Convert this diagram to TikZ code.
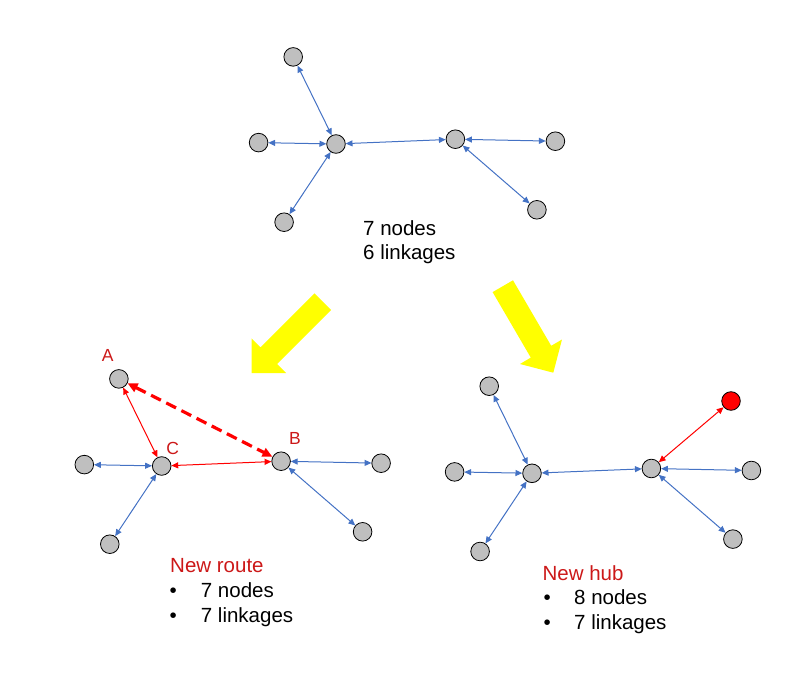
\documentclass[tikz,border=0pt]{standalone}
\usepackage{fontspec}
\setmainfont{Liberation Sans}
\usetikzlibrary{arrows.meta}
\definecolor{nodegray}{HTML}{BFBFBF}
\definecolor{linkblue}{HTML}{4472C4}
\definecolor{linkred}{HTML}{FF0000}
\definecolor{labelred}{HTML}{CC1818}
\definecolor{bigyellow}{HTML}{FFFF00}
\begin{document}
\begin{tikzpicture}[x=1pt, y=-1pt,
    vertex/.style={circle, draw=black, line width=0.8pt, fill=nodegray, minimum size=18.6pt, inner sep=0pt},
    link/.style={line width=1pt, {Triangle[length=6.8pt,width=6pt]}-{Triangle[length=6.8pt,width=6pt]}},
    newlink/.style={line width=3.2pt, linkred, dash pattern=on 11pt off 6pt, {Triangle[length=10pt,width=9pt]}-{Triangle[length=10pt,width=9pt]}},
    txt/.style={anchor=base west, inner sep=0pt, font=\fontsize{20.5}{24}\selectfont},
    tag/.style={inner sep=0pt, text=labelred, font=\fontsize{17.5}{20}\selectfont}]
  \useasboundingbox (0,0) rectangle (801,690);
  % the same network three times: before, new route, new hub
  \foreach \g/\hx/\hy/\col in {t/336/144/linkblue, l/161.7/466/linkred, r/532/473.3/linkblue} {
    \begin{scope}[shift={(\hx,\hy)}]
      \node[vertex] (\g-hub1) at (0,0) {};
      \node[vertex] (\g-top) at (-42.8,-87.1) {};
      \node[vertex] (\g-west) at (-77.4,-1.4) {};
      \node[vertex] (\g-south) at (-51.9,78.2) {};
      \node[vertex] (\g-hub2) at (119.4,-4.8) {};
      \node[vertex] (\g-east) at (219.4,-2.8) {};
      \node[vertex] (\g-southeast) at (200.9,65.8) {};
      \draw[link, \col] (\g-hub1) -- (\g-top);
      \draw[link, \col] (\g-hub1) -- (\g-hub2);
      \draw[link, linkblue] (\g-hub1) -- (\g-west);
      \draw[link, linkblue] (\g-hub1) -- (\g-south);
      \draw[link, linkblue] (\g-hub2) -- (\g-east);
      \draw[link, linkblue] (\g-hub2) -- (\g-southeast);
    \end{scope}
  }
  \draw[newlink] (l-top) -- (l-hub2);
  \node[vertex, fill=red] (r-extra) at (731,401) {};
  \draw[link, linkred] (r-hub2) -- (r-extra);
  % labels of the new route
  \node[tag] (tag-a) at (107.7,355) {A};
  \node[tag] (tag-b) at (295,438.3) {B};
  \node[tag] (tag-c) at (172.7,448) {C};
  % yellow arrows
  \fill[bigyellow] (314.5,293.4) -- (331.1,310.0) -- (277.1,364.0) -- (286.1,373.0)
    -- (251.5,373.0) -- (251.5,338.4) -- (260.5,347.4) -- cycle;
  \fill[bigyellow] (513.0,280.3) -- (551.2,345.8) -- (562.0,339.5) -- (553.3,372.7)
    -- (520.0,364.0) -- (530.8,357.6) -- (492.6,292.1) -- cycle;
  % counts
  \node[txt] (t-count1) at (363,235) {7 nodes};
  \node[txt] (t-count2) at (363,259) {6 linkages};
  \node[txt, text=labelred] (l-title) at (170,572.7) {New route};
  \node[txt] (l-count1) at (169.5,597.7) {\makebox[31.2pt][l]{•}7 nodes};
  \node[txt] (l-count2) at (169.5,622.7) {\makebox[31.2pt][l]{•}7 linkages};
  \node[txt, text=labelred] (r-title) at (542.4,580) {New hub};
  \node[txt] (r-count1) at (543.5,604.7) {\makebox[30.5pt][l]{•}8 nodes};
  \node[txt] (r-count2) at (543.5,629.4) {\makebox[30.5pt][l]{•}7 linkages};
\end{tikzpicture}
\end{document}
